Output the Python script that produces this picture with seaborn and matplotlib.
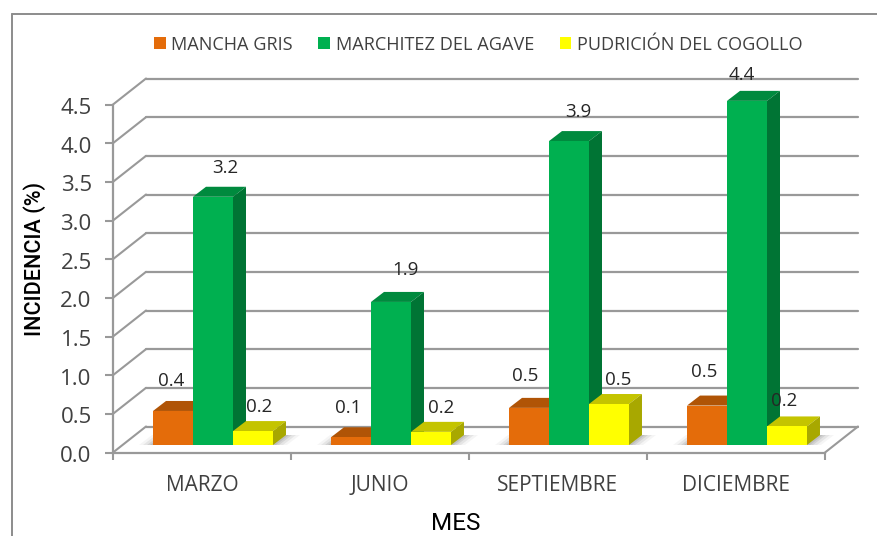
import matplotlib
matplotlib.use("Agg")
import matplotlib.pyplot as plt
from matplotlib.lines import Line2D
from matplotlib.patches import Polygon
from matplotlib.transforms import ScaledTranslation
import pandas as pd
import seaborn as sns

MESES = ["MARZO", "JUNIO", "SEPTIEMBRE", "DICIEMBRE"]
SERIES = ["MANCHA GRIS", "MARCHITEZ DEL AGAVE", "PUDRICIÓN DEL COGOLLO"]
MANCHA_GRIS = [0.44, 0.10, 0.48, 0.51]
MARCHITEZ = [3.21, 1.85, 3.93, 4.45]
PUDRICION = [0.18, 0.17, 0.53, 0.24]
ETIQ_MANCHA = ["0.4", "0.1", "0.5", "0.5"]
ETIQ_MARCHITEZ = ["3.2", "1.9", "3.9", "4.4"]
ETIQ_PUDRICION = ["0.2", "0.2", "0.5", "0.2"]
Y_TICKS = [0.0, 0.5, 1.0, 1.5, 2.0, 2.5, 3.0, 3.5, 4.0, 4.5]

FRONT = ["#E46C0A", "#00B050", "#FFFF00"]
TOP = ["#B05406", "#008A3E", "#C4C400"]
SIDE = ["#A04C06", "#007434", "#A8A800"]
GRID = "#999999"
TXT = "#404040"

W, H = 877, 536
sns.set_theme(style="white")
plt.rcParams["font.family"] = ["Open Sans", "DejaVu Sans"]

fig = plt.figure(figsize=(W / 100, H / 100), dpi=100, facecolor="white")
L, R, B, T = 113, 825, 452.5, 104.5
ax = fig.add_axes([L / W, 1 - B / H, (R - L) / W, (B - T) / H])

df = pd.DataFrame({
    "mes": MESES * 3,
    "serie": [s for s in SERIES for _ in MESES],
    "incidencia": MANCHA_GRIS + MARCHITEZ + PUDRICION,
})
sns.barplot(data=df, x="mes", y="incidencia", hue="serie", order=MESES,
            hue_order=SERIES, palette=FRONT, saturation=1, width=0.674,
            gap=0, errorbar=None, ax=ax, linewidth=0, zorder=5)
ax.set_xlim(-0.5, 3.5)
ax.set_ylim(0, 4.5)

ux = 4 / (R - L)          # data units per pixel, x
uy = 4.5 / (B - T)        # data units per pixel, y

# 3D box geometry, pixels
WALL_X, WALL_Y = 33, 26
BAR_X, BAR_Y = 11, 7.5
DEP_X, DEP_Y = 13, 10

# floor, walls
for v in Y_TICKS:
    ax.plot([-0.5, -0.5 + WALL_X * ux], [v, v + WALL_Y * uy], color=GRID,
            lw=1.5, clip_on=False, zorder=1, solid_capstyle="round")
    ax.plot([-0.5 + WALL_X * ux, 3.5 + WALL_X * ux], [v + WALL_Y * uy] * 2,
            color=GRID, lw=1.6, clip_on=False, zorder=1)
ax.plot([3.5, 3.5 + WALL_X * ux], [0, WALL_Y * uy], color=GRID, lw=1.5,
        clip_on=False, zorder=1)

# soft shadows on the floor
for i in range(len(MESES)):
    for grow, a in [(14, 0.06), (10, 0.10), (6, 0.14), (3, 0.16)]:
        x0 = i - 0.337 + BAR_X * ux
        x1 = i + 0.337 + BAR_X * ux
        y0 = BAR_Y * uy
        ax.add_patch(Polygon(
            [(x0 - grow * ux, y0), (x1 + grow * ux, y0),
             (x1 + (DEP_X + grow) * ux, y0 + DEP_Y * uy * 1.0),
             (x0 + (DEP_X - grow) * ux, y0 + DEP_Y * uy * 1.0)],
            closed=True, fc="#606060", ec="none", alpha=a, clip_on=False, zorder=2))

# shift front faces onto the floor, add top and side faces
bars = list(ax.containers)
for k, cont in enumerate(bars):
    for p in cont:
        p.set_x(p.get_x() + BAR_X * ux)
        p.set_y(BAR_Y * uy)
        p.set_clip_on(False)
        p.set_zorder(5 + k * 2 + 1)
        x0, x1 = p.get_x(), p.get_x() + p.get_width()
        y0, y1 = p.get_y(), p.get_y() + p.get_height()
        dx, dy = DEP_X * ux, DEP_Y * uy
        ax.add_patch(Polygon([(x0, y1), (x1, y1), (x1 + dx, y1 + dy), (x0 + dx, y1 + dy)],
                             closed=True, fc=TOP[k], ec="none", clip_on=False, zorder=5 + k * 2))
        ax.add_patch(Polygon([(x1, y0), (x1, y1), (x1 + dx, y1 + dy), (x1 + dx, y0 + dy)],
                             closed=True, fc=SIDE[k], ec="none", clip_on=False, zorder=5 + k * 2))

# data labels, nudged in pixels from each bar's top centre
NUDGE = [
    [(-2, 30), (-3, 29), (-4, 32), (-3, 34)],
    [(12, 29), (14, 32), (9, 29), (-5, 26)],
    [(6, 24), (10, 24), (9, 24), (-3, 25)],
]
for cont, labs, nudges in zip(bars, [ETIQ_MANCHA, ETIQ_MARCHITEZ, ETIQ_PUDRICION], NUDGE):
    for p, lab, nu in zip(cont, labs, nudges):
        ax.annotate(lab, (p.get_x() + p.get_width() / 2, p.get_y() + p.get_height()),
                    xytext=nu, textcoords="offset pixels", ha="center", va="center",
                    fontsize=13.5, color="#262626", annotation_clip=False, zorder=30)

# axes
sns.despine(ax=ax, top=True, right=True, left=False, bottom=False)
for s in ("left", "bottom"):
    ax.spines[s].set_color(GRID)
    ax.spines[s].set_linewidth(1.6)
ax.set_yticks(Y_TICKS, [f"{v:.1f}" for v in Y_TICKS])
ax.set_xticks(range(len(MESES)), MESES)
ax.set_xticks([-0.5, 0.5, 1.5, 2.5, 3.5], minor=True)
ax.tick_params(axis="y", length=5.8, width=1.5, color=GRID, pad=9.5, labelsize=16,
               labelcolor=TXT, left=True)
ax.tick_params(axis="x", which="major", length=0, pad=16, labelsize=15, labelcolor=TXT)
ax.tick_params(axis="x", which="minor", length=5, width=1.5, color=GRID, bottom=True)
down = ScaledTranslation(0, -1.5 / 100, fig.dpi_scale_trans)
for lab in ax.get_yticklabels():
    lab.set_transform(lab.get_transform() + down)
ax.set_xlabel("")
ax.set_ylabel("")
fig.text(456 / W, 1 - 523 / H, "MES", ha="center", va="center", fontsize=17.5,
         color="black", family="Roboto")
fig.text(35 / W, 1 - 259 / H, "INCIDENCIA (%)", rotation=90, ha="center", va="center",
         fontsize=15.5, color="black", family="Roboto", weight="medium")

# legend
sns.move_legend(ax, "center left", bbox_to_anchor=(154 / W, 1 - 44.5 / H),
                bbox_transform=fig.transFigure, ncol=3, frameon=False, title=None,
                fontsize=13.1, labelcolor=TXT, handlelength=0.65, handleheight=0.65,
                handletextpad=0.3, columnspacing=1.4, borderpad=0, borderaxespad=0)

# outer chart frame (runs off the canvas right and bottom)
for xs, ys in [((11.5, W), (14, 14)), ((11.5, 11.5), (14, H))]:
    fig.add_artist(Line2D([x / W for x in xs], [1 - y / H for y in ys],
                          color="#8C8C8C", lw=1.4))

fig.savefig("out.png", dpi=100, facecolor="white")
